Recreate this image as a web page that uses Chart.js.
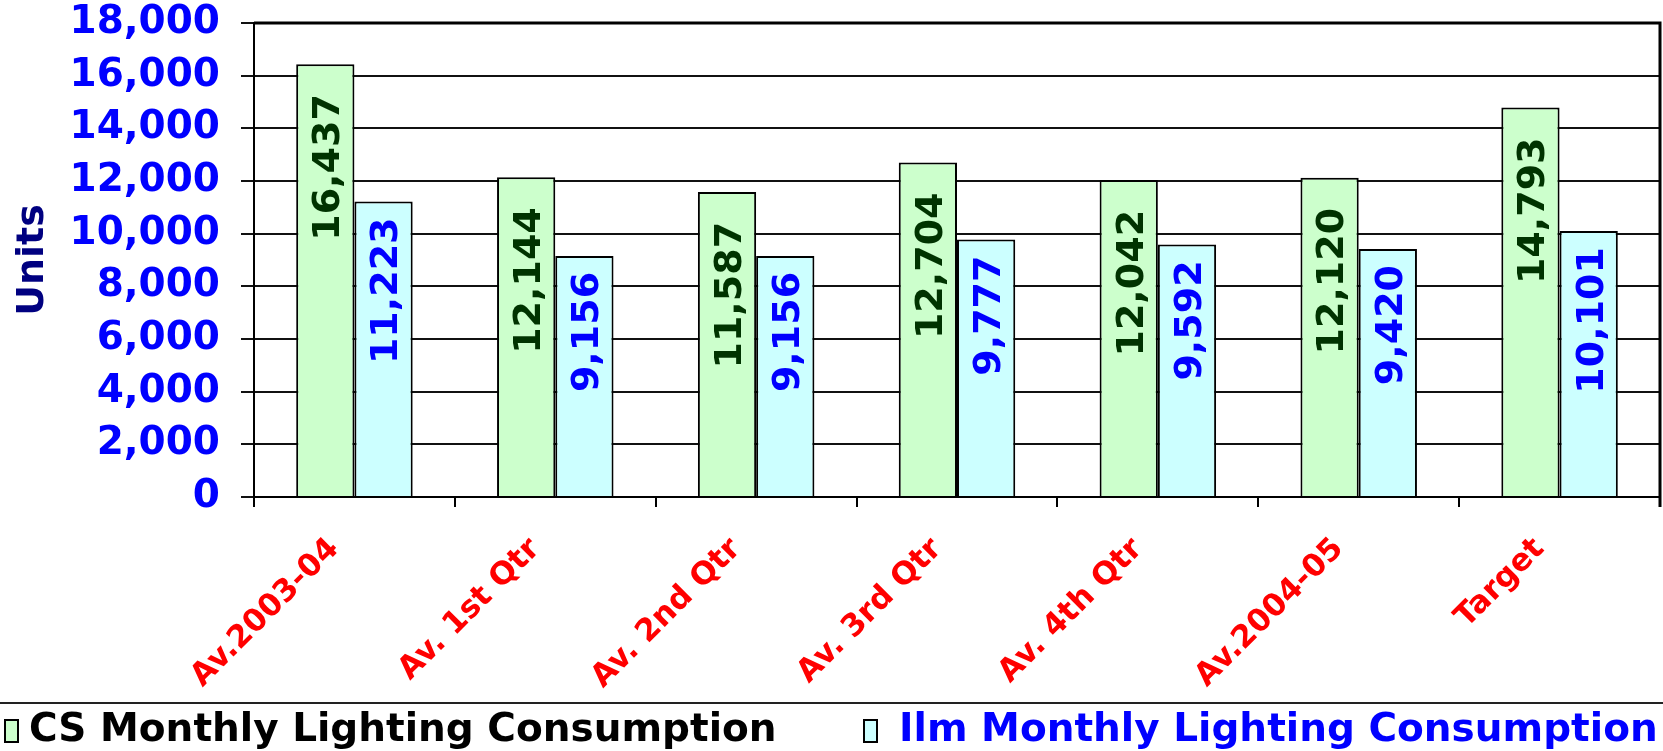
<!DOCTYPE html>
<html>
<head>
<meta charset="utf-8">
<title>Monthly Lighting Consumption</title>
<script src="https://cdn.jsdelivr.net/npm/chart.js@4.4.1/dist/chart.umd.min.js"></script>
<style>
    html, body { margin: 0; padding: 0; background: #fff; }
    #wrap { width: 1663px; height: 751px; }
</style>
</head>
<body>
<div id="wrap"><canvas id="grafico" width="1663" height="751"></canvas></div>
<script>
// dados
const categorias = ['Av.2003-04', 'Av. 1st Qtr', 'Av. 2nd Qtr', 'Av. 3rd Qtr', 'Av. 4th Qtr', 'Av.2004-05', 'Target'];
const consumoCS = [16437, 12144, 11587, 12704, 12042, 12120, 14793];
const consumoIlm = [11223, 9156, 9156, 9777, 9592, 9420, 10101];
const nomesSeries = ['CS Monthly Lighting Consumption', 'Ilm Monthly Lighting Consumption'];
const eixoYMax = 18000;
const eixoYPasso = 2000;
const tituloEixoY = 'Units';

const fonte = "'DejaVu Sans', Verdana, sans-serif";

// rótulos de valor, girados, perto do topo de cada barra
const rotuloValores = {
    id: 'rotuloValores',
    afterDatasetsDraw(chart, args, opts) {
        const ctx = chart.ctx;
        chart.data.datasets.forEach((ds, i) => {
            const meta = chart.getDatasetMeta(i);
            meta.data.forEach((bar, j) => {
                const texto = ds.data[j].toLocaleString('en-US');
                ctx.save();
                ctx.translate(bar.x, bar.y + opts.folga[i]);
                ctx.rotate(-Math.PI / 2);
                ctx.font = 'bold ' + opts.tamanho + 'px ' + fonte;
                ctx.fillStyle = opts.cores[i];
                ctx.textAlign = 'right';
                ctx.textBaseline = 'alphabetic';
                ctx.fillText(texto, 0, opts.tamanho * 0.365);
                ctx.restore();
            });
        });
    }
};

// moldura da área do gráfico + legenda no estilo Excel
const molduraLegenda = {
    id: 'molduraLegenda',
    afterDraw(chart, args, opts) {
        const ctx = chart.ctx;
        const area = chart.chartArea;

        ctx.save();
        ctx.strokeStyle = '#000';
        ctx.lineWidth = 3;
        ctx.beginPath();
        ctx.moveTo(area.left, area.top);
        ctx.lineTo(area.right, area.top);
        ctx.lineTo(area.right, area.bottom + 10);
        ctx.stroke();

        // linha separando a legenda
        ctx.lineWidth = 2;
        ctx.strokeStyle = '#222';
        ctx.beginPath();
        ctx.moveTo(0, opts.linhaY);
        ctx.lineTo(chart.width, opts.linhaY);
        ctx.stroke();

        ctx.font = 'bold ' + opts.tamanho + 'px ' + fonte;
        ctx.textBaseline = 'middle';
        ctx.textAlign = 'left';
        chart.data.datasets.forEach((ds, i) => {
            const bx = opts.caixaX[i];
            ctx.fillStyle = ds.backgroundColor;
            ctx.fillRect(bx, opts.caixaY, 13, 22);
            ctx.strokeStyle = '#000';
            ctx.lineWidth = 2;
            ctx.strokeRect(bx, opts.caixaY, 13, 22);
            ctx.fillStyle = opts.coresTexto[i];
            ctx.fillText(ds.label, opts.textoX[i], opts.textoY);
        });
        ctx.restore();
    }
};

const ctxGrafico = document.getElementById('grafico').getContext('2d');
const grafico = new Chart(ctxGrafico, {
    type: 'bar',
    data: {
        labels: categorias,
        datasets: [
            {
                label: nomesSeries[0],
                data: consumoCS,
                backgroundColor: '#CCFFCC',
                borderColor: '#000',
                borderWidth: 2
            },
            {
                label: nomesSeries[1],
                data: consumoIlm,
                backgroundColor: '#CCFFFF',
                borderColor: '#000',
                borderWidth: 2
            }
        ]
    },
    options: {
        responsive: false,
        animation: false,
        devicePixelRatio: 1,
        layout: { padding: { top: 0, right: 3, bottom: 49, left: 0 } },
        datasets: {
            bar: { categoryPercentage: 0.58, barPercentage: 1 }
        },
        scales: {
            x: {
                offset: true,
                grid: { offset: true, drawOnChartArea: false, drawTicks: true, tickLength: 10, color: '#000', lineWidth: 2 },
                border: { color: '#000', width: 2 },
                ticks: {
                    autoSkip: false,
                    maxRotation: 45,
                    minRotation: 45,
                    padding: 24,
                    labelOffset: -20,
                    color: '#FF0000',
                    font: { family: fonte, size: 31, weight: 'bold' }
                },
                afterFit: (scale) => { scale.height = 205; }
            },
            y: {
                min: 0,
                max: eixoYMax,
                grid: { color: '#111', lineWidth: 2, tickLength: 13 },
                border: { color: '#000', width: 2 },
                ticks: {
                    stepSize: eixoYPasso,
                    padding: 21,
                    color: '#0000FF',
                    font: { family: fonte, size: 39, weight: 'bold' }
                },
                title: {
                    display: true,
                    text: tituloEixoY,
                    color: '#000080',
                    padding: { top: 10, bottom: 0 },
                    font: { family: fonte, size: 38, weight: 'bold' }
                },
                afterFit: (scale) => {
                    scale.width = 254;
                    scale.paddingTop = 23;
                    scale.paddingBottom = 0;
                }
            }
        },
        plugins: {
            legend: { display: false },
            tooltip: { enabled: false },
            rotuloValores: {
                folga: [30, 16],
                cores: ['#003300', '#0000FF'],
                tamanho: 38
            },
            molduraLegenda: {
                linhaY: 703,
                caixaX: [5, 864],
                caixaY: 720,
                textoX: [29, 899],
                textoY: 731,
                coresTexto: ['#000', '#0000FF'],
                tamanho: 39
            }
        }
    },
    plugins: [rotuloValores, molduraLegenda]
});
</script>
</body>
</html>
